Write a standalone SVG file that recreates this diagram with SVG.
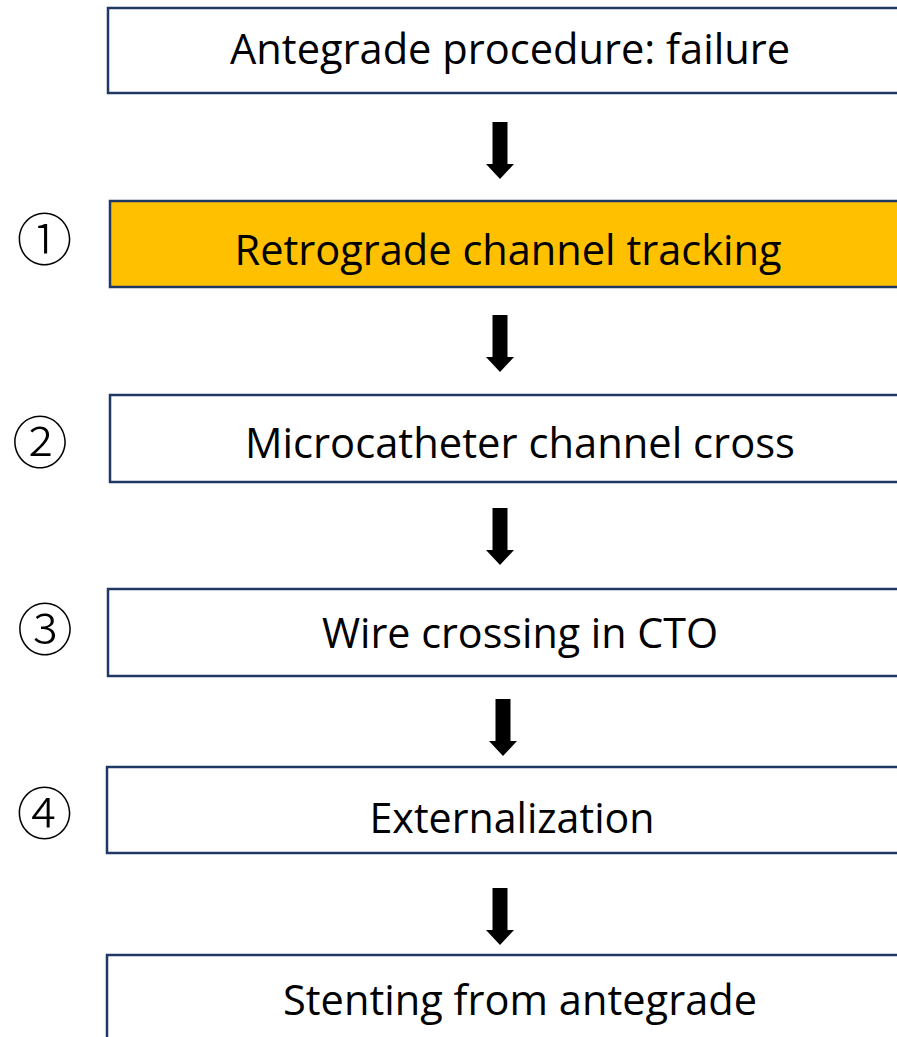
<svg xmlns="http://www.w3.org/2000/svg" width="897" height="1037" viewBox="0 0 897 1037">
<defs>
<style>
.box{fill:#ffffff;stroke:#1f3864;stroke-width:2.5}
.hl{fill:#ffc000}
.lbl{font-family:"Open Sans","Liberation Sans",sans-serif;font-size:42px;fill:#000;text-anchor:middle}
.num{font-family:"Noto Sans CJK JP",sans-serif;font-size:56px;font-weight:300;fill:#000;text-anchor:middle}
.arr{fill:#000}
</style>
<path id="arrow" d="M-7.5,0 H7.5 V42 H14 L0,57 L-14,42 H-7.5 Z"/>
</defs>
<rect width="897" height="1037" fill="#ffffff"/>
<g id="node1">
<rect class="box" x="108" y="8" width="800" height="85"/>
<text class="lbl" x="510" y="64" textLength="560" lengthAdjust="spacingAndGlyphs">Antegrade procedure: failure</text>
</g>
<g id="node2">
<rect class="box hl" x="110" y="201" width="800" height="86"/>
<text class="lbl" x="508" y="265" textLength="547" lengthAdjust="spacingAndGlyphs">Retrograde channel tracking</text>
</g>
<g id="node3">
<rect class="box" x="110" y="395" width="800" height="87"/>
<text class="lbl" x="520" y="458" textLength="550" lengthAdjust="spacingAndGlyphs">Microcatheter channel cross</text>
</g>
<g id="node4">
<rect class="box" x="108" y="589" width="800" height="87"/>
<text class="lbl" x="520" y="648" textLength="396" lengthAdjust="spacingAndGlyphs">Wire crossing in CTO</text>
</g>
<g id="node5">
<rect class="box" x="107" y="767" width="800" height="86"/>
<text class="lbl" x="512" y="833" textLength="285" lengthAdjust="spacingAndGlyphs">Externalization</text>
</g>
<g id="node6">
<rect class="box" x="107" y="955" width="800" height="100"/>
<text class="lbl" x="520" y="1015" textLength="474" lengthAdjust="spacingAndGlyphs">Stenting from antegrade</text>
</g>
<g id="labels">
<text class="num" x="44.5" y="260">①</text>
<text class="num" x="40" y="463">②</text>
<text class="num" x="45" y="650">③</text>
<text class="num" x="44.5" y="834">④</text>
</g>
<g id="connectors" class="arr">
<use href="#arrow" x="500" y="122"/>
<use href="#arrow" x="500" y="315"/>
<use href="#arrow" x="500" y="508"/>
<use href="#arrow" x="503" y="699"/>
<use href="#arrow" x="500" y="888"/>
</g>
</svg>
